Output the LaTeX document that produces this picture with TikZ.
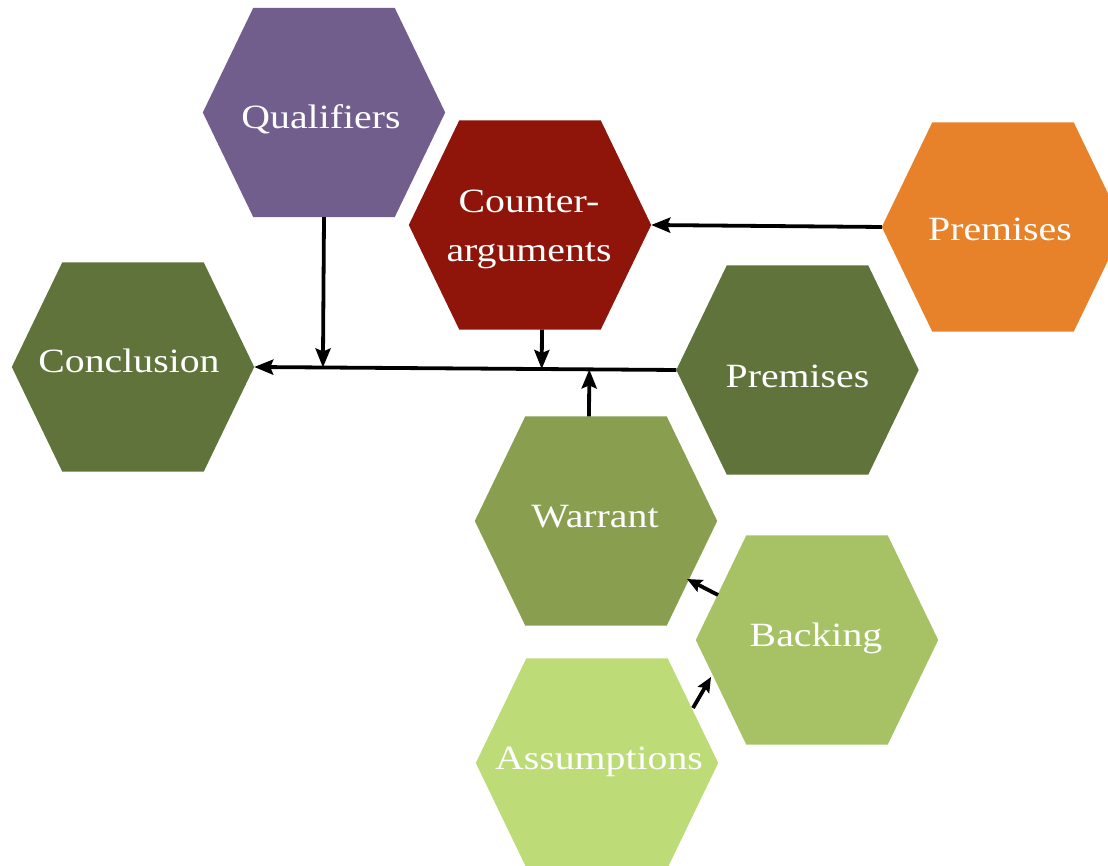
\documentclass[tikz,border=0pt]{standalone}
\usepackage{fontspec}
\newfontfamily\hexfont[FakeStretch=1.17]{Liberation Serif}
\usetikzlibrary{arrows.meta,calc}
\definecolor{cpurple}{HTML}{715E8C}
\definecolor{cred}{HTML}{8F140A}
\definecolor{corange}{HTML}{E8822A}
\definecolor{cdark}{HTML}{60733A}
\definecolor{cwarrant}{HTML}{8A9E50}
\definecolor{cbacking}{HTML}{A7C265}
\definecolor{cassume}{HTML}{BDDC78}
\newcommand\hexfill[2]{\fill[#2] (#1.west) -- ([xshift=50.5pt]#1.north west) -- ([xshift=-50.5pt]#1.north east) -- (#1.east) -- ([xshift=-50.5pt]#1.south east) -- ([xshift=50.5pt]#1.south west) -- cycle;}
\tikzset{
  hexbox/.style={rectangle, minimum width=242pt, minimum height=209pt, inner sep=0pt},
  hextext/.style={anchor=base, text=white, inner sep=0pt, font=\hexfont\fontsize{34}{48}\selectfont, align=center},
  bigarrow/.style={line width=3.8pt, -{Stealth[length=19pt,width=15pt,inset=3pt]}},
  smallarrow/.style={line width=3.8pt, -{Stealth[length=15pt,width=13pt,inset=2.5pt]}}
}
\begin{document}
\begin{tikzpicture}[x=1pt,y=1pt]
\useasboundingbox (0,0) rectangle (1108,866);
\clip (0,0) rectangle (1108,866);
% shape nodes
\node[hexbox] (q)  at (324,753.5) {};
\node[hexbox] (ca) at (530,641) {};
\node[hexbox] (po) at (1003,639) {};
\node[hexbox] (c)  at (133,499) {};
\node[hexbox] (pg) at (797.5,496) {};
\node[hexbox] (w)  at (596,345) {};
\node[hexbox] (b)  at (817,226) {};
\node[hexbox] (a)  at (597,103) {};
\hexfill{q}{cpurple}
\hexfill{ca}{cred}
\hexfill{po}{corange}
\hexfill{c}{cdark}
\hexfill{pg}{cdark}
\hexfill{w}{cwarrant}
\hexfill{b}{cbacking}
\hexfill{a}{cassume}
% texts
\node[hextext] (qt)  at ($(q)+(-3,-15.8)$) {Qualifiers};
\node[hextext] (cat1) at ($(ca)+(-1,12)$) {Counter-};
\node[hextext] (cat2) at ($(ca)+(-1,-37)$) {arguments};
\node[hextext] (pot) at ($(po)+(-3,-13.7)$) {Premises};
\node[hextext] (ct)  at ($(c)+(-4,-5.7)$) {Conclusion};
\node[hextext] (pgt) at ($(pg)+(0,-18)$) {Premises};
\node[hextext] (wt)  at ($(w)+(-1,-7)$) {Warrant};
\node[hextext] (bt)  at ($(b)+(-1,-6.7)$) {Backing};
\node[hextext] (at)  at ($(a)+(2,-7)$) {Assumptions};
% connectors
\draw[bigarrow] (pg.west) -- (c.east);
\draw[bigarrow] (po.west) -- (ca.east);
\coordinate (qs) at (q.south);
\coordinate (cas) at ([xshift=12pt]ca.south);
\coordinate (wn) at ([xshift=-7pt]w.north);
\draw[bigarrow] (qs) -- ($(c.east)!(qs)!(pg.west)$);
\draw[bigarrow] (cas) -- ($(c.east)!(cas)!(pg.west)$);
\draw[bigarrow] (wn) -- ($(c.east)!(wn)!(pg.west)$);
\draw[smallarrow] ($(b)+(-99,45)$) -- ($(w)+(91,-58)$);
\draw[smallarrow] ($(a)+(96,55)$) -- ($(b)+(-106,-37)$);
\end{tikzpicture}
\end{document}
